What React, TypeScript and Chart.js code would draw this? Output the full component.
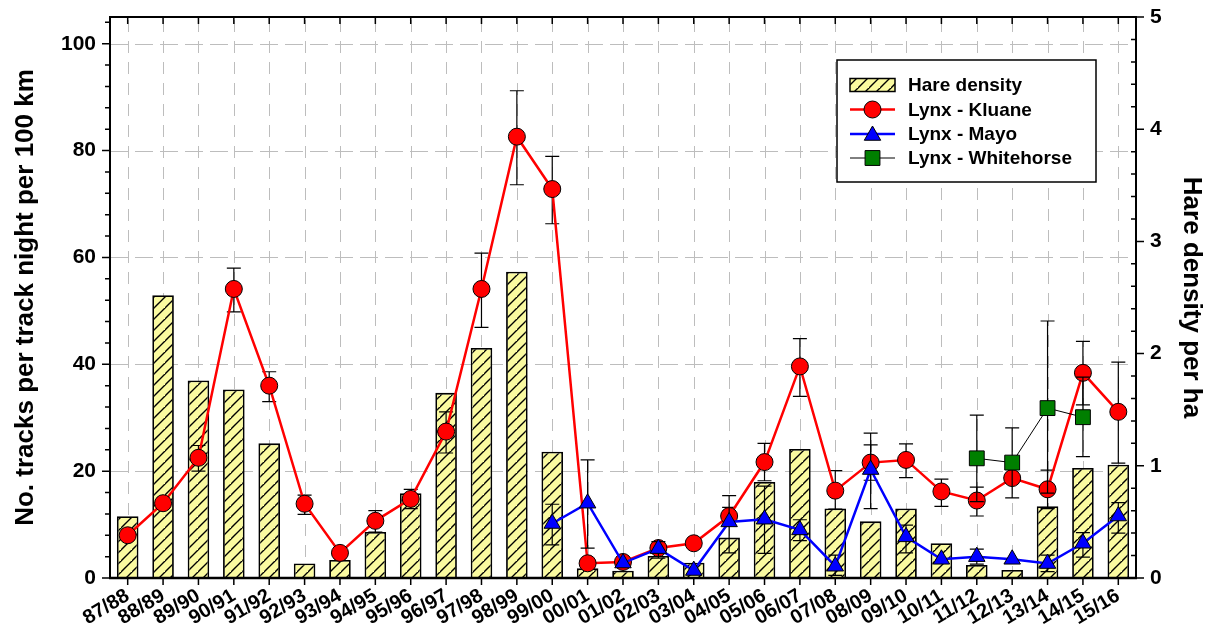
import React, { useEffect, useRef } from 'react';
import { Chart, registerables } from 'chart.js';

Chart.register(...registerables);

const seasons = ['87/88','88/89','89/90','90/91','91/92','92/93','93/94','94/95','95/96','96/97','97/98','98/99','99/00','00/01','01/02','02/03','03/04','04/05','05/06','06/07','07/08','08/09','09/10','10/11','11/12','12/13','13/14','14/15','15/16'];

const hareDensity = [0.55,2.52,1.76,1.68,1.20,0.13,0.16,0.41,0.755,1.65,2.05,2.73,1.125,0.086,0.065,0.196,0.137,0.36,0.856,1.15,0.62,0.505,0.62,0.31,0.116,0.071,0.64,0.98,1.01];

const lynxKluane = [8.0,14.0,22.5,54.1,36.0,13.9,4.7,10.7,14.8,27.4,54.1,82.6,72.8,2.75,3.0,5.6,6.5,11.6,21.7,39.6,16.35,21.6,22.1,16.2,14.5,18.7,16.6,38.4,31.1];
const kluaneLow = [null,null,20.0,49.8,33.0,11.9,null,8.6,13.0,23.4,46.9,73.6,66.3,null,null,null,null,10.0,18.2,34.0,12.9,18.3,18.8,13.4,11.6,null,13.0,32.4,21.5];
const kluaneHigh = [null,null,24.8,58.0,38.6,15.5,null,12.6,16.6,31.1,60.8,91.2,78.9,null,null,null,null,13.2,25.2,44.8,20.1,24.9,25.1,18.5,17.0,null,20.2,44.3,40.4];

const lynxMayo = [null,null,null,null,null,null,null,null,null,null,null,null,10.2,14.0,2.8,5.5,1.4,10.5,11.0,9.0,2.2,20.3,7.7,3.5,4.0,3.5,2.7,6.5,11.6];
const mayoLow = [null,null,null,null,null,null,null,null,null,null,null,null,6.2,5.6,null,3.7,null,4.7,4.6,7.0,0.5,13.0,4.7,null,2.6,null,1.2,3.9,8.4];
const mayoHigh = [null,null,null,null,null,null,null,null,null,null,null,null,13.8,22.1,null,6.8,null,15.4,17.2,10.9,4.3,27.1,9.9,null,5.4,null,4.3,8.5,14.1];

const lynxWhitehorse = [null,null,null,null,null,null,null,null,null,null,null,null,null,null,null,null,null,null,null,null,null,null,null,null,22.4,21.6,31.8,30.1,null];
const whitehorseLow = [null,null,null,null,null,null,null,null,null,null,null,null,null,null,null,null,null,null,null,null,null,null,null,null,14.3,15.0,15.9,22.7,null];
const whitehorseHigh = [null,null,null,null,null,null,null,null,null,null,null,null,null,null,null,null,null,null,null,null,null,null,null,null,30.5,28.1,48.1,37.6,null];

const leftTicks = [0, 20, 40, 60, 80, 100];
const rightTicks = [0, 1, 2, 3, 4, 5];

const legendLabels = ['Hare density', 'Lynx - Kluane', 'Lynx - Mayo', 'Lynx - Whitehorse'];

const FONT = "Arial, 'Liberation Sans', Helvetica, sans-serif";
const HARE_FILL = '#fafaa0';
const KLUANE_COLOR = '#ff0000';
const MAYO_COLOR = '#0000ff';
const WH_COLOR = '#007f00';

function makeHatch(): CanvasPattern | string {
  const c = document.createElement('canvas');
  const s = 11;
  c.width = s; c.height = s;
  const g = c.getContext('2d');
  if (!g) return HARE_FILL;
  g.fillStyle = HARE_FILL;
  g.fillRect(0, 0, s, s);
  g.strokeStyle = '#000';
  g.lineWidth = 1.4;
  g.beginPath();
  g.moveTo(-2, s + 2); g.lineTo(s + 2, -2);
  g.moveTo(-2 - s, s + 2); g.lineTo(2, -2);
  g.moveTo(s - 2, 2 * s + 2); g.lineTo(2 * s + 2, s - 2);
  g.stroke();
  const p = g.createPattern(c, 'repeat');
  return p || HARE_FILL;
}

const errorSets: Record<number, { low: (number | null)[]; high: (number | null)[] }> = {
  1: { low: kluaneLow, high: kluaneHigh },
  2: { low: mayoLow, high: mayoHigh },
  3: { low: whitehorseLow, high: whitehorseHigh },
};

function drawMarker(ctx: CanvasRenderingContext2D, style: string, x: number, y: number, r: number, fill: string) {
  ctx.save();
  ctx.fillStyle = fill;
  ctx.strokeStyle = '#000';
  ctx.lineWidth = 1;
  ctx.setLineDash([]);
  ctx.beginPath();
  if (style === 'circle') {
    ctx.arc(x, y, r, 0, Math.PI * 2);
  } else if (style === 'triangle') {
    ctx.moveTo(x, y - r);
    ctx.lineTo(x + r * Math.sin(Math.PI * 2 / 3), y - r * Math.cos(Math.PI * 2 / 3));
    ctx.lineTo(x + r * Math.sin(Math.PI * 4 / 3), y - r * Math.cos(Math.PI * 4 / 3));
    ctx.closePath();
  } else {
    const h = r * Math.SQRT1_2;
    ctx.rect(x - h, y - h, 2 * h, 2 * h);
  }
  ctx.fill();
  ctx.stroke();
  ctx.restore();
}

const noPad = (s: any) => {
  s.paddingTop = 0;
  s.paddingBottom = 0;
  s.paddingLeft = 0;
  s.paddingRight = 0;
};

const overlayPlugin = {
  id: 'overlayPlugin',
  beforeDatasetsDraw(chart: any) {
    const { ctx, chartArea: a, scales } = chart;
    ctx.save();
    ctx.strokeStyle = '#bdbdbd';
    ctx.lineWidth = 1;
    ctx.setLineDash([12, 9]);
    seasons.forEach((_, i) => {
      const x = Math.round(scales.x.getPixelForValue(i)) + 0.5;
      ctx.beginPath();
      ctx.moveTo(x, a.bottom);
      ctx.lineTo(x, a.top);
      ctx.stroke();
    });
    ctx.setLineDash([18, 7]);
    leftTicks.filter((v) => v > 0).forEach((v) => {
      const y = Math.round(scales.y.getPixelForValue(v)) + 0.5;
      ctx.beginPath();
      ctx.moveTo(a.left, y);
      ctx.lineTo(a.right, y);
      ctx.stroke();
    });
    ctx.restore();
  },
  beforeDatasetDraw(chart: any, args: any) {
    const set = errorSets[args.index];
    if (!set) return;
    const { ctx, scales } = chart;
    ctx.save();
    ctx.strokeStyle = '#000';
    ctx.lineWidth = 1.2;
    ctx.setLineDash([]);
    seasons.forEach((_, i) => {
      const lo = set.low[i];
      const hi = set.high[i];
      if (lo == null || hi == null) return;
      const x = scales.x.getPixelForValue(i);
      const y1 = scales.y.getPixelForValue(lo);
      const y2 = scales.y.getPixelForValue(hi);
      ctx.beginPath();
      ctx.moveTo(x, y1); ctx.lineTo(x, y2);
      ctx.moveTo(x - 7, y1); ctx.lineTo(x + 7, y1);
      ctx.moveTo(x - 7, y2); ctx.lineTo(x + 7, y2);
      ctx.stroke();
    });
    ctx.restore();
  },
  afterDraw(chart: any) {
    const { ctx, chartArea: a, scales } = chart;
    ctx.save();
    ctx.setLineDash([]);
    ctx.strokeStyle = '#000';
    ctx.lineWidth = 1.5;
    ctx.beginPath();
    for (let v = 0; v <= 104; v += 4) {
      const y = scales.y.getPixelForValue(v);
      const len = v % 20 === 0 ? 8 : 5;
      ctx.moveTo(a.left, y); ctx.lineTo(a.left - len, y);
    }
    for (let k = 0; k <= 25; k++) {
      const v = k * 0.2;
      const y = scales.y1.getPixelForValue(v);
      if (k % 5 === 0) { ctx.moveTo(a.right, y); ctx.lineTo(a.right + 8, y); }
      else { ctx.moveTo(a.right, y); ctx.lineTo(a.right - 5, y); }
    }
    seasons.forEach((_, i) => {
      const x = scales.x.getPixelForValue(i);
      ctx.moveTo(x, a.top); ctx.lineTo(x, a.top + 7);
      ctx.moveTo(x, a.bottom); ctx.lineTo(x, a.bottom + 7);
    });
    ctx.stroke();
    ctx.lineWidth = 2;
    ctx.strokeRect(a.left, a.top, a.right - a.left, a.bottom - a.top);
    ctx.lineWidth = 2.5;
    ctx.beginPath();
    ctx.moveTo(a.left - 1, a.bottom); ctx.lineTo(a.right + 1, a.bottom);
    ctx.stroke();

    // legend
    const lx = 837, ly = 60, lw = 259, lh = 122;
    ctx.fillStyle = '#fff';
    ctx.fillRect(lx, ly, lw, lh);
    ctx.lineWidth = 1.5;
    ctx.strokeStyle = '#000';
    ctx.strokeRect(lx, ly, lw, lh);
    const rows = [85, 109.5, 134, 158];
    const sx1 = 850, sx2 = 895, sxc = 872.5;
    ctx.fillStyle = chart.data.datasets[0].backgroundColor;
    ctx.fillRect(sx1, rows[0] - 6.5, sx2 - sx1, 13);
    ctx.lineWidth = 1.5;
    ctx.strokeRect(sx1, rows[0] - 6.5, sx2 - sx1, 13);
    ctx.strokeStyle = KLUANE_COLOR; ctx.lineWidth = 2.5;
    ctx.beginPath(); ctx.moveTo(sx1, rows[1]); ctx.lineTo(sx2, rows[1]); ctx.stroke();
    drawMarker(ctx, 'circle', sxc, rows[1], 8.5, KLUANE_COLOR);
    ctx.strokeStyle = MAYO_COLOR; ctx.lineWidth = 2.5;
    ctx.beginPath(); ctx.moveTo(sx1, rows[2]); ctx.lineTo(sx2, rows[2]); ctx.stroke();
    drawMarker(ctx, 'triangle', sxc, rows[2] + 1.5, 9.5, MAYO_COLOR);
    ctx.strokeStyle = '#000'; ctx.lineWidth = 1;
    ctx.beginPath(); ctx.moveTo(sx1, rows[3]); ctx.lineTo(sx2, rows[3]); ctx.stroke();
    drawMarker(ctx, 'rect', sxc, rows[3], 10.5, WH_COLOR);
    ctx.fillStyle = '#000';
    ctx.font = `bold 19px ${FONT}`;
    ctx.textBaseline = 'middle';
    ctx.textAlign = 'left';
    legendLabels.forEach((t, i) => ctx.fillText(t, 908, rows[i] + 1));
    ctx.restore();
  },
};

export default function App() {
  const canvasRef = useRef<HTMLCanvasElement | null>(null);

  useEffect(() => {
    const canvas = canvasRef.current;
    if (!canvas) return;
    const hatch = makeHatch();
    const chart = new Chart(canvas, {
      type: 'bar',
      data: {
        labels: seasons,
        datasets: [
          {
            type: 'bar',
            label: legendLabels[0],
            data: hareDensity,
            yAxisID: 'y1',
            backgroundColor: hatch as any,
            borderColor: '#000',
            borderWidth: 1.8,
            barPercentage: 0.61,
            categoryPercentage: 1,
            order: 4,
          },
          {
            type: 'line',
            label: legendLabels[1],
            data: lynxKluane,
            yAxisID: 'y',
            borderColor: KLUANE_COLOR,
            borderWidth: 2.5,
            pointStyle: 'circle',
            pointRadius: 8.5,
            pointBackgroundColor: KLUANE_COLOR,
            pointBorderColor: '#000',
            pointBorderWidth: 1,
            tension: 0,
            order: 3,
          },
          {
            type: 'line',
            label: legendLabels[2],
            data: lynxMayo,
            yAxisID: 'y',
            borderColor: MAYO_COLOR,
            borderWidth: 2.5,
            pointStyle: 'triangle',
            pointRadius: 9.5,
            pointBackgroundColor: MAYO_COLOR,
            pointBorderColor: '#000',
            pointBorderWidth: 1,
            tension: 0,
            order: 1,
          },
          {
            type: 'line',
            label: legendLabels[3],
            data: lynxWhitehorse,
            yAxisID: 'y',
            borderColor: '#000',
            borderWidth: 1,
            pointStyle: 'rect',
            pointRadius: 10.5,
            pointBackgroundColor: WH_COLOR,
            pointBorderColor: '#000',
            pointBorderWidth: 1,
            tension: 0,
            order: 2,
          },
        ],
      },
      options: {
        animation: false,
        responsive: true,
        maintainAspectRatio: false,
        events: [],
        layout: { padding: { top: 17, left: 0, right: 0, bottom: 0 } },
        plugins: { legend: { display: false }, tooltip: { enabled: false } },
        scales: {
          x: {
            type: 'category',
            offset: true,
            grid: { display: false, drawTicks: false },
            border: { display: false },
            ticks: {
              color: '#000',
              font: { family: FONT, size: 20, weight: 'bold' },
              minRotation: 31,
              maxRotation: 31,
              autoSkip: false,
              padding: 6,
            },
            afterFit: (s: any) => { s.height = 60; noPad(s); },
          },
          y: {
            type: 'linear',
            position: 'left',
            min: 0,
            max: 105,
            grid: { display: false, drawTicks: false },
            border: { display: false },
            afterBuildTicks: (s: any) => { s.ticks = leftTicks.map((v) => ({ value: v })); },
            ticks: {
              color: '#000',
              font: { family: FONT, size: 21, weight: 'bold' },
              padding: 14,
            },
            title: {
              display: true,
              text: 'No. tracks per track night per 100 km',
              color: '#000',
              font: { family: FONT, size: 26, weight: 'bold' },
              padding: { top: 10, bottom: 0 },
            },
            afterFit: (s: any) => { s.width = 110; noPad(s); },
          },
          y1: {
            type: 'linear',
            position: 'right',
            min: 0,
            max: 5,
            grid: { display: false, drawTicks: false },
            border: { display: false },
            afterBuildTicks: (s: any) => { s.ticks = rightTicks.map((v) => ({ value: v })); },
            ticks: {
              color: '#000',
              font: { family: FONT, size: 21, weight: 'bold' },
              padding: 14,
            },
            title: {
              display: true,
              text: 'Hare density per ha',
              color: '#000',
              font: { family: FONT, size: 26, weight: 'bold' },
              padding: { top: 8, bottom: 0 },
            },
            afterFit: (s: any) => { s.width = 79; noPad(s); },
          },
        },
      },
      plugins: [overlayPlugin],
    });
    return () => chart.destroy();
  }, []);

  return (
    <div style={{ position: 'fixed', left: 0, top: 0, width: 1215, height: 638, background: '#fff' }}>
      <canvas ref={canvasRef} />
    </div>
  );
}
